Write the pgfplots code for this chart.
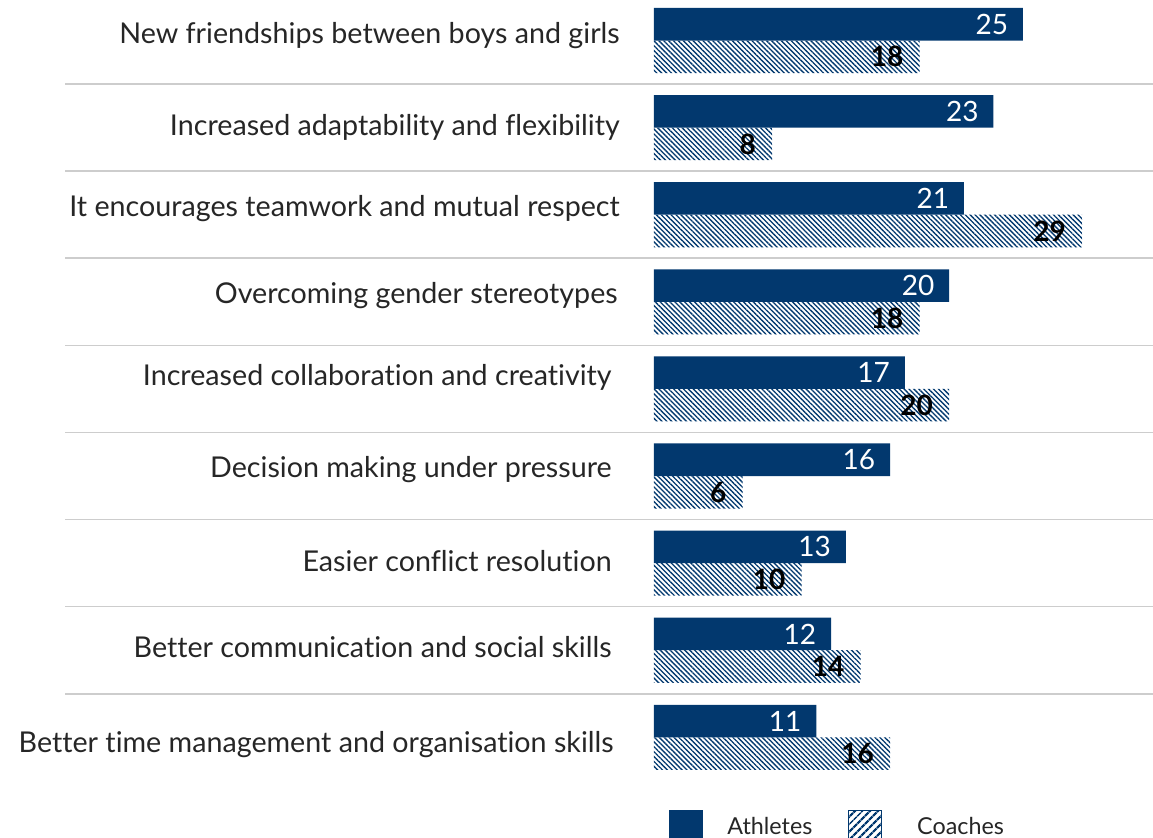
\documentclass[border=0pt]{standalone}
\usepackage{pgfplots}
\pgfplotsset{compat=1.18}
\usetikzlibrary{patterns.meta}
\usepackage{fontspec}
\setmainfont{Lato}[Ligatures={NoCommon}]
\definecolor{navy}{RGB}{2,56,110}
\definecolor{txt}{RGB}{38,38,38}
\definecolor{sepc}{RGB}{205,205,205}
\begin{document}
\begin{tikzpicture}
\useasboundingbox (-490.5pt,-75.5pt) rectangle (374.25pt,553pt);
\begin{axis}[
  at={(0pt,0pt)}, anchor=origin,
  x=11.07pt, y=65.325pt,
  xmin=0, xmax=33.8, ymin=-0.5, ymax=8.5,
  axis lines=none, clip=false,
  xbar, bar width=24.4pt,
  /pgf/number format/assume math mode=true,
  nodes near coords,
  nodes near coords style={anchor=east, inner sep=0pt},
  legend columns=2,
  legend style={draw=none, fill=none, inner sep=0pt, at={(0.0301,-0.0359)}, anchor=north west,
    font=\fontsize{17.5}{20}\selectfont, text=txt,
    /tikz/every odd column/.append style={column sep=18.5pt},
    /tikz/every even column/.append style={column sep=26pt},
    nodes={inner sep=0pt}},
  legend cell align=left,
]
\addplot[forget plot, fill=navy, draw=none, bar shift=12.2pt,
  nodes near coords style={text=white, xshift=-11pt, font=\fontsize{21}{24}\selectfont}]
  coordinates {(25,8) (23,7) (21,6) (20,5) (17,4) (16,3) (13,2) (12,1) (11,0)};
\addplot[forget plot, draw=none, pattern={Lines[angle=-45,distance=2.6pt,line width=1pt]}, pattern color=navy, bar shift=-12.2pt,
  nodes near coords style={text=black, xshift=-12pt, font=\fontsize{21}{24}\selectfont\bfseries}]
  coordinates {(18,8) (8,7) (29,6) (18,5) (20,4) (6,3) (10,2) (14,1) (16,0)};
\addlegendimage{legend image code/.code={\fill[navy] (0pt,-12.4pt) rectangle (24.75pt,12.4pt);}}
\addlegendentry{Athletes}
\addlegendimage{legend image code/.code={\fill[pattern={Lines[angle=45,distance=4pt,line width=1.8pt]},pattern color=navy] (0pt,-12.4pt) rectangle (24.75pt,12.4pt); \draw[navy, line width=0.8pt] (0pt,-12.4pt) rectangle (24.75pt,12.4pt);}}
\addlegendentry{\hspace{7.5pt}Coaches}
\pgfplotsinvokeforeach{0,...,7}{
  \draw[sepc, line width=1.2pt] (axis cs:-39.9,#1+0.5) -- (axis cs:33.8,#1+0.5);
}
\begin{scope}[every node/.style={anchor=east, inner sep=0pt, text=txt, font=\fontsize{21.5}{24}\selectfont}]
\node at (axis cs:-2.3,8.052) {New friendships between boys and girls};
\node at (axis cs:-2.3,7.007) {Increased adaptability and flexibility};
\node at (axis cs:-2.3,6.066) {It encourages teamwork and mutual respect};
\node at (axis cs:-2.44,5.067) {Overcoming gender stereotypes};
\node at (axis cs:-2.85,4.137) {Increased collaboration and creativity};
\node at (axis cs:-2.85,3.069) {Decision making under pressure};
\node at (axis cs:-2.85,2.024) {Easier conflict resolution};
\node at (axis cs:-2.85,1.037) {Better communication and social skills};
\node at (axis cs:-2.71,-0.088) {Better time management and organisation skills};
\end{scope}
\end{axis}
\end{tikzpicture}
\end{document}
